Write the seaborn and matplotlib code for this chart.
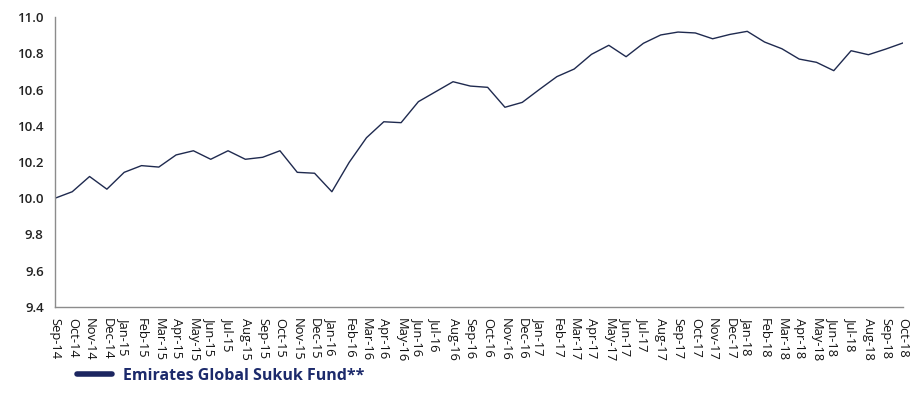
import numpy as np
import pandas as pd
import matplotlib
matplotlib.use("Agg")
import matplotlib.pyplot as plt
import seaborn as sns

# Monthly NAV values
months = ["Sep-14", "Oct-14", "Nov-14", "Dec-14", "Jan-15", "Feb-15", "Mar-15", "Apr-15",
          "May-15", "Jun-15", "Jul-15", "Aug-15", "Sep-15", "Oct-15", "Nov-15", "Dec-15",
          "Jan-16", "Feb-16", "Mar-16", "Apr-16", "May-16", "Jun-16", "Jul-16", "Aug-16",
          "Sep-16", "Oct-16", "Nov-16", "Dec-16", "Jan-17", "Feb-17", "Mar-17", "Apr-17",
          "May-17", "Jun-17", "Jul-17", "Aug-17", "Sep-17", "Oct-17", "Nov-17", "Dec-17",
          "Jan-18", "Feb-18", "Mar-18", "Apr-18", "May-18", "Jun-18", "Jul-18", "Aug-18",
          "Sep-18", "Oct-18"]
nav = [10.00, 10.036, 10.12, 10.05, 10.143, 10.18, 10.172, 10.239,
       10.262, 10.215, 10.262, 10.215, 10.226, 10.262, 10.143, 10.138,
       10.036, 10.198, 10.334, 10.422, 10.417, 10.533, 10.588, 10.643,
       10.619, 10.612, 10.502, 10.529, 10.601, 10.671, 10.713, 10.794,
       10.844, 10.781, 10.855, 10.901, 10.917, 10.912, 10.880, 10.904,
       10.921, 10.862, 10.825, 10.768, 10.750, 10.704, 10.814, 10.792,
       10.823, 10.857]
series_name = "Emirates Global Sukuk Fund**"
y_ticks = [9.4, 9.6, 9.8, 10.0, 10.2, 10.4, 10.6, 10.8, 11.0]

df = pd.DataFrame({"pos": np.arange(len(months)), "month": months, "nav": nav})

sns.set_style("white")
plt.rcParams["font.family"] = ["Open Sans", "DejaVu Sans"]

fig = plt.figure(figsize=(9.19, 4.12), dpi=100)
ax = fig.add_axes([0.0598, 0.2549, 0.9228, 0.7038])

sns.lineplot(data=df, x="pos", y="nav", ax=ax, color="#1f2a4f", linewidth=1.0, legend=False)

ax.set_xlim(0, len(months) - 1)
ax.set_ylim(9.4, 11.0)
ax.set_xticks(df["pos"])
ax.set_xticklabels(months, rotation=-90, fontsize=9.3, color="#111111")
ax.set_yticks(y_ticks)
ax.set_yticklabels([f"{v:.1f}" for v in y_ticks], fontsize=9.5, color="#222222", fontweight="semibold")
ax.set_xlabel("")
ax.set_ylabel("")

for side in ["top", "right"]:
    ax.spines[side].set_visible(False)
for side in ["left", "bottom"]:
    ax.spines[side].set_color("#8c8c8c")
    ax.spines[side].set_linewidth(1.0)
ax.tick_params(axis="both", direction="out", length=5, width=1, color="#8c8c8c", pad=3)

# legend below the plot
handle = plt.Line2D([], [], color="#1c2660", linewidth=4, solid_capstyle="round")
fig.legend([handle], [series_name], loc="center left", bbox_to_anchor=(0.068, 0.088),
           frameon=False, handlelength=2.2, handletextpad=0.7,
           prop={"size": 11.5, "weight": "bold"}, labelcolor="#1c2a6b")

fig.savefig("out.png", dpi=100)
